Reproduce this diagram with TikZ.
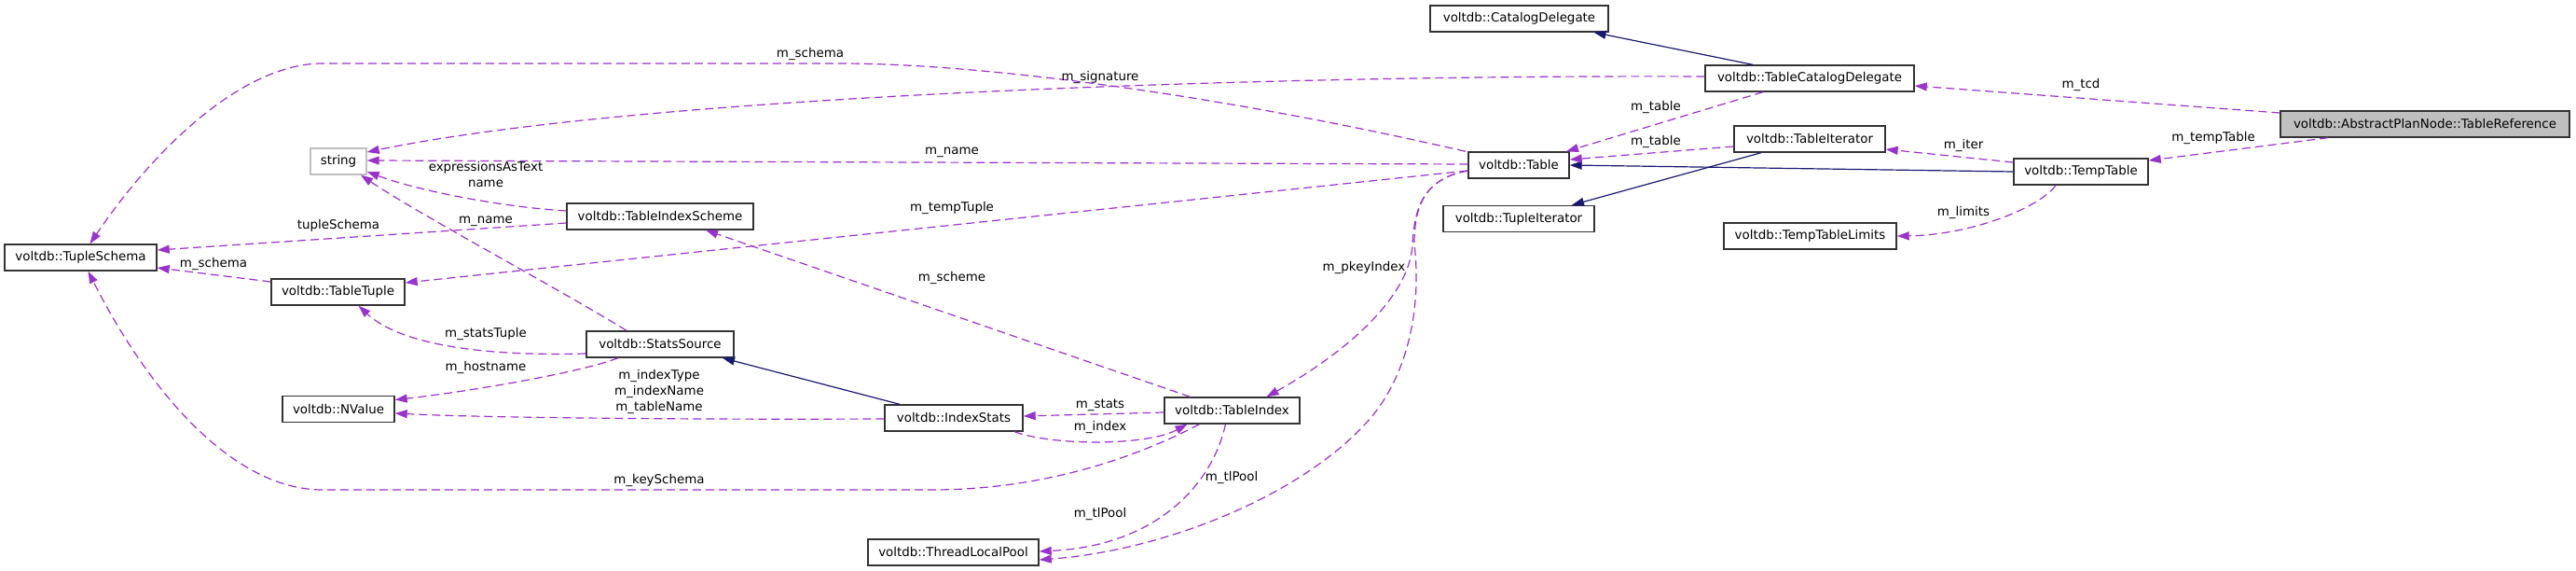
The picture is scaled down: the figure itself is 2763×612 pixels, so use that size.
\documentclass[tikz,border=0pt]{standalone}
\usepackage{fontspec}
\setmainfont{DejaVu Sans}
\usepackage{tikz}
\usetikzlibrary{arrows.meta,calc}
\definecolor{usepurple}{HTML}{9A32CD}
\definecolor{inhblue}{HTML}{191970}
\definecolor{rootgray}{HTML}{BFBFBF}
\tikzset{
  cls/.style={draw=black!80, line width=1.4pt, fill=white, inner sep=0pt,
              minimum height=28pt, font=\fontsize{13.4}{16}\selectfont},
  rootcls/.style={cls, fill=rootgray},
  extcls/.style={cls, draw=rootgray},
  uses/.style={-{Triangle[length=13pt,width=9pt]}, usepurple, line width=1.2pt,
               dash pattern=on 9pt off 5pt},
  inh/.style={-{Triangle[length=13pt,width=9pt]}, inhblue, line width=1.2pt},
  lbl/.style={inner sep=0pt, align=center, font=\fontsize{13.4}{17}\selectfont},
}

\begin{document}
\begin{tikzpicture}[x=1pt,y=-1pt]
  \useasboundingbox (0,0) rectangle (2763,612);
  \node[rootcls,minimum width=310pt] (tref) at (2601,133) {voltdb::AbstractPlanNode::TableReference};
  \node[cls,minimum width=224pt] (tcd) at (1941,84) {voltdb::TableCatalogDelegate};
  \node[cls,minimum width=191pt] (catdel) at (1629.5,20) {voltdb::CatalogDelegate};
  \node[cls,minimum width=162pt] (titer) at (1941,149) {voltdb::TableIterator};
  \node[cls,minimum width=144pt] (ttable) at (2232,184) {voltdb::TempTable};
  \node[cls,minimum width=185pt] (tlimits) at (1941.5,253) {voltdb::TempTableLimits};
  \node[cls,minimum width=108pt] (table) at (1629,177) {voltdb::Table};
  \node[cls,minimum width=162pt] (tupit) at (1629,234.5) {voltdb::TupleIterator};
  \node[extcls,minimum width=60pt] (str) at (363,173) {string};
  \node[cls,minimum width=163pt] (tschema) at (86.5,276) {voltdb::TupleSchema};
  \node[cls,minimum width=200pt] (tis) at (708,232) {voltdb::TableIndexScheme};
  \node[cls,minimum width=143pt] (ttuple) at (362.5,313) {voltdb::TableTuple};
  \node[cls,minimum width=158pt] (ssrc) at (708,369) {voltdb::StatsSource};
  \node[cls,minimum width=120pt] (nval) at (363,438.5) {voltdb::NValue};
  \node[cls,minimum width=145pt] (tidx) at (1321.5,440) {voltdb::TableIndex};
  \node[cls,minimum width=148pt] (istats) at (1023,448) {voltdb::IndexStats};
  \node[cls,minimum width=183pt] (tlp) at (1022.5,592) {voltdb::ThreadLocalPool};

  \draw[uses] ([yshift=12pt]tref.west) -- ([yshift=-8pt]tcd.east);
  \draw[uses] ([xshift=-104pt]tref.south) -- ([yshift=12pt]ttable.east);
  \draw[uses] ([yshift=10pt]ttable.west) -- ([yshift=-11pt]titer.east);
  \draw[uses] ([xshift=-27pt]ttable.south) .. controls (2185,225) and (2110,252) .. (tlimits.east);
  \draw[inh] (ttable.west) -- (table.east);
  \draw[inh] ([xshift=-52pt]titer.south) -- ([xshift=57pt]tupit.north);
  \draw[uses] ([yshift=-8pt]titer.west) -- ([yshift=6pt]table.east);
  \draw[inh] ([xshift=-61pt]tcd.north) -- ([xshift=80pt]catdel.south);
  \draw[uses] ([xshift=-50pt]tcd.south) -- ([xshift=51pt]table.north);
  \draw[uses] ([yshift=2pt]tcd.west) .. controls (1400,80) and (700,100) .. ([yshift=10pt]str.east);
  \draw[uses] ([xshift=-57pt]table.north) .. controls (1300,100) and (1050,68) .. (900,68)
    -- (346,68) .. controls (260,68) and (165,160) .. ([xshift=10pt]tschema.north);
  \draw[uses] ([yshift=1pt]table.west) -- ([yshift=1pt]str.east);
  \draw[uses] ([yshift=-6pt]table.west) -- ([yshift=10pt]ttuple.east);
  \draw[uses] ([yshift=-6pt]table.west) .. controls (1525,192) and (1517,225) .. (1515,262)
    .. controls (1512,320) and (1440,380) .. ([xshift=37pt]tidx.north);
  \draw[uses] ([yshift=-6pt]table.west) .. controls (1525,192) and (1517,225) .. (1517,262)
    .. controls (1525,330) and (1510,400) .. (1471,447)
    .. controls (1400,530) and (1250,590) .. ([yshift=-8pt]tlp.east);
  \draw[uses] ([yshift=-2pt]tidx.west) -- ([yshift=2pt]istats.east);
  \draw[uses] ([xshift=65pt]istats.south) .. controls (1130,478) and (1230,478) .. ([xshift=-48pt]tidx.south);
  \draw[uses] ([xshift=-35pt]tidx.south) .. controls (1200,500) and (1100,525) .. (1000,525)
    -- (346,525) .. controls (250,525) and (160,420) .. ([xshift=8pt]tschema.south);
  \draw[uses] ([xshift=-7pt]tidx.south) .. controls (1300,520) and (1240,585) .. ([yshift=1pt]tlp.east);
  \draw[uses] ([xshift=-45pt]tidx.north) -- ([xshift=49pt]tis.south);
  \draw[inh] ([xshift=-58pt]istats.north) -- ([xshift=67pt]ssrc.south);
  \draw[uses] ([yshift=-1pt]istats.west) .. controls (700,450) and (500,447) .. ([yshift=-4.5pt]nval.east);
  \draw[uses] ([xshift=-45pt]ssrc.south) .. controls (620,400) and (500,420) .. ([yshift=10pt]nval.east);
  \draw[uses] ([yshift=-10pt]ssrc.west) .. controls (520,382) and (430,370) .. ([xshift=22pt]ttuple.south);
  \draw[uses] ([xshift=-36pt]ssrc.north) .. controls (600,310) and (450,230) .. ([xshift=24pt]str.south);
  \draw[uses] ([yshift=6pt]tis.west) .. controls (540,222) and (450,205) .. ([yshift=-11pt]str.east);
  \draw[uses] ([yshift=-7pt]tis.west) -- ([yshift=8pt]tschema.east);
  \draw[uses] ([yshift=11pt]ttuple.west) -- ([yshift=-11pt]tschema.east);

  \node[lbl] (lTcd) at (2232,91) {m\_tcd};
  \node[lbl] (lTempTable) at (2374,148) {m\_tempTable};
  \node[lbl] (lIter) at (2106,156) {m\_iter};
  \node[lbl] (lLimits) at (2106,228) {m\_limits};
  \node[lbl] (lTableA) at (1776,115) {m\_table};
  \node[lbl] (lTableB) at (1776,152) {m\_table};
  \node[lbl] (lSignature) at (1180,83) {m\_signature};
  \node[lbl] (lSchemaA) at (869,58) {m\_schema};
  \node[lbl] (lNameA) at (1021,163) {m\_name};
  \node[lbl] (lTempTuple) at (1021,223) {m\_tempTuple};
  \node[lbl] (lScheme) at (1021,298) {m\_scheme};
  \node[lbl] (lPkeyIndex) at (1463,287) {m\_pkeyIndex};
  \node[lbl] (lStats) at (1180,434) {m\_stats};
  \node[lbl] (lIndex) at (1180,458) {m\_index};
  \node[lbl] (lTlPoolA) at (1321,512) {m\_tlPool};
  \node[lbl] (lTlPoolB) at (1180,551) {m\_tlPool};
  \node[lbl] (lKeySchema) at (707,515) {m\_keySchema};
  \node[lbl] (lIndexNames) at (707,420) {m\_indexType\\m\_indexName\\m\_tableName};
  \node[lbl] (lHostname) at (521,394) {m\_hostname};
  \node[lbl] (lStatsTuple) at (521,358) {m\_statsTuple};
  \node[lbl] (lNameB) at (521,237) {m\_name};
  \node[lbl] (lExprName) at (521,187) {expressionsAsText\\name};
  \node[lbl] (lTupleSchema) at (363,242) {tupleSchema};
  \node[lbl] (lSchemaB) at (229,283) {m\_schema};
\end{tikzpicture}
\end{document}
